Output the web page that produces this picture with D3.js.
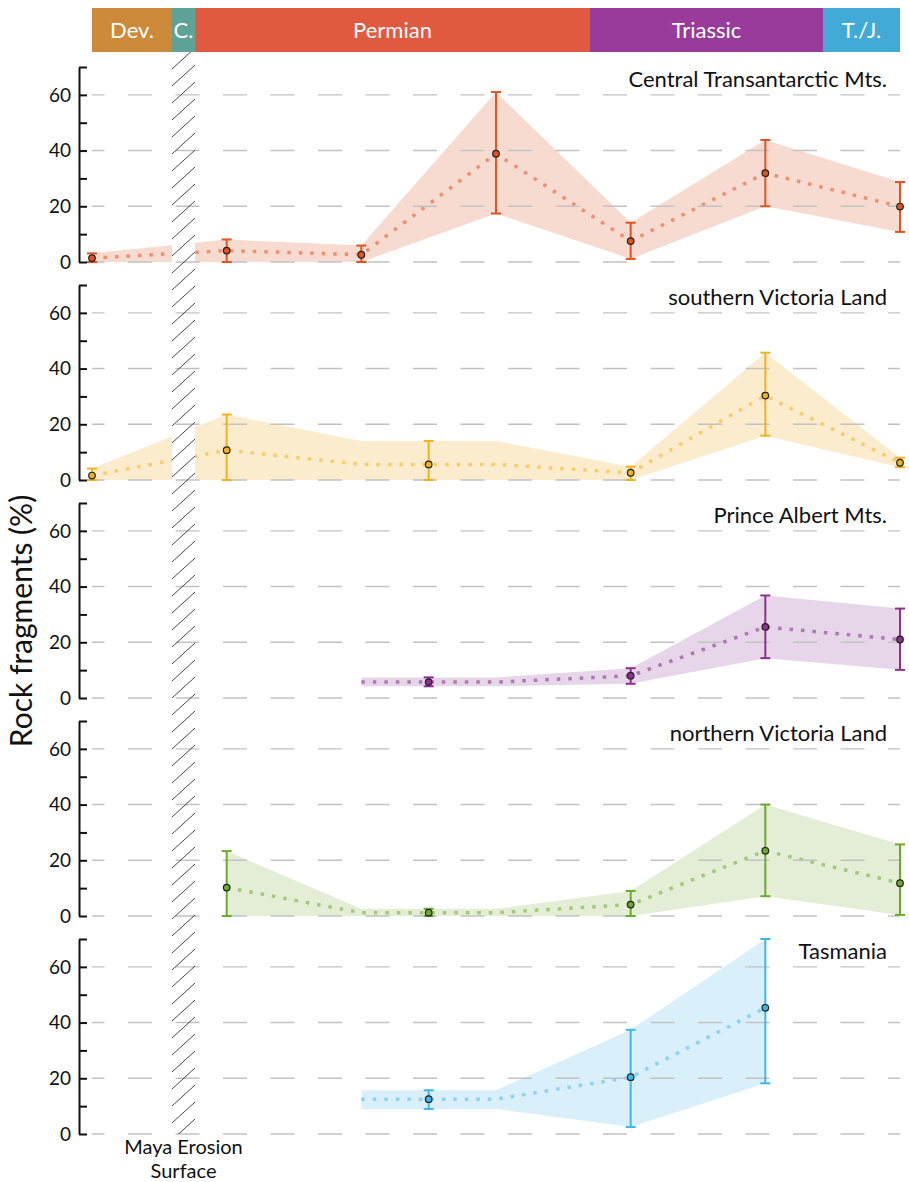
<!DOCTYPE html>
<html>
<head>
<meta charset="utf-8">
<script src="https://cdn.jsdelivr.net/npm/d3@7"></script>
<style>
    body { margin: 0; background: #fff; }
    svg text { font-family: Lato, "Open Sans", sans-serif; }
</style>
</head>
<body>
<div class="chart-container"></div>
<script>
// Chart params
const width = 909;
const height = 1182;
const panelTop = 67;
const panelHeight = 195;
const panelStep = 218;

// Time periods along the top bar (stage units)
const periods = ['Dev.', 'C.', 'Permian', 'Triassic', 'T./J.'];
const periodBounds = [0, 0.594, 0.765, 3.698, 5.428, 6];
const periodColors = ['#cc8a3a', '#5fa296', '#e05a3f', '#983b9b', '#42aad6'];

// Maya erosion surface gap (stage units)
const gapStart = 0.594;
const gapEnd = 0.765;

// Y axis ticks
const yLabels = [0, 20, 40, 60];
const yTicks = [0, 10, 20, 30, 40, 50, 60, 70];

// Regions
const regions = ['Central Transantarctic Mts.', 'southern Victoria Land', 'Prince Albert Mts.', 'northern Victoria Land', 'Tasmania'];

// Central Transantarctic Mts.
const ctmFrom = [0, 1, 2, 3, 4, 5, 6];
const ctmTo   = [0, 1, 2, 3, 4, 5, 6];
const ctmMean = [1.4, 4.1, 2.6, 38.9, 7.5, 31.9, 19.9];
const ctmLow  = [0, 0, 0, 17.4, 1.1, 20, 10.8];
const ctmHigh = [3.1, 8.1, 5.9, 61, 14.1, 43.8, 28.7];

// southern Victoria Land
const svlFrom = [0, 1, 2, 4, 5, 6];
const svlTo   = [0, 1, 3, 4, 5, 6];
const svlMean = [1.6, 10.7, 5.6, 2.6, 30.3, 6.2];
const svlLow  = [0, 0, 0, 0, 15.9, 4.6];
const svlHigh = [4.1, 23.5, 14, 4.8, 45.7, 8];

// Prince Albert Mts.
const pamFrom = [2, 4, 5, 6];
const pamTo   = [3, 4, 5, 6];
const pamMean = [5.7, 8.0, 25.5, 21];
const pamLow  = [4.2, 5.1, 14.3, 10.1];
const pamHigh = [7.4, 10.7, 36.8, 32.1];

// northern Victoria Land
const nvlFrom = [1, 2, 4, 5, 6];
const nvlTo   = [1, 3, 4, 5, 6];
const nvlMean = [10.2, 1.2, 4.1, 23.4, 11.8];
const nvlLow  = [0, 0, 0, 7.1, 0.4];
const nvlHigh = [23.3, 2.6, 9.0, 40, 25.7];

// Tasmania
const tasFrom = [2, 4, 5];
const tasTo   = [3, 4, 5];
const tasMean = [12.5, 20.4, 45.3];
const tasLow  = [9.0, 2.5, 18.2];
const tasHigh = [15.7, 37.4, 70];

// Colours: error bar, dotted line, band
const barColors  = ['#e2531f', '#f2b11f', '#8f2f8f', '#6aaa2c', '#3eb6e8'];
const dotColors  = ['#ee9070', '#f7cd6a', '#ad78b3', '#a3c879', '#8dd3f1'];
const bandColors = ['#f8dbd0', '#fbecce', '#e7d6ea', '#e4eed6', '#d9effa'];

const seriesFrom = [ctmFrom, svlFrom, pamFrom, nvlFrom, tasFrom];
const seriesTo   = [ctmTo, svlTo, pamTo, nvlTo, tasTo];
const seriesMean = [ctmMean, svlMean, pamMean, nvlMean, tasMean];
const seriesLow  = [ctmLow, svlLow, pamLow, nvlLow, tasLow];
const seriesHigh = [ctmHigh, svlHigh, pamHigh, nvlHigh, tasHigh];

const x = d3.scaleLinear().domain([0, 6]).range([92, 900]);

// Build point records for a panel
function getPoints(i) {
    return seriesMean[i].map((m, j) => ({
        from: seriesFrom[i][j],
        to: seriesTo[i][j],
        mean: m,
        low: seriesLow[i][j],
        high: seriesHigh[i][j]
    }));
}

// Band vertices: a point spread over a stage interval gives two vertices
function getVertices(points) {
    var v = [];
    points.forEach(p => {
        v.push({ x: p.from, mean: p.mean, low: p.low, high: p.high });
        if (p.to !== p.from) v.push({ x: p.to, mean: p.mean, low: p.low, high: p.high });
    });
    return v;
}

function yScale(i) {
    var top = panelTop + i * panelStep;
    return d3.scaleLinear().domain([0, 70]).range([top + panelHeight, top]);
}

function drawChart() {

    var svg = d3.select('.chart-container')
        .append('svg')
        .attr('width', width)
        .attr('height', height);

    // Bands and dotted mean lines (masked by the gap column later)
    regions.forEach((r, i) => {
        var y = yScale(i);
        var v = getVertices(getPoints(i));

        svg.append('path')
            .datum(v)
            .attr('fill', bandColors[i])
            .attr('d', d3.area().x(d => x(d.x)).y0(d => y(d.low)).y1(d => y(d.high)));

        svg.append('path')
            .datum(v)
            .attr('fill', 'none')
            .attr('stroke', dotColors[i])
            .attr('stroke-width', 3.5)
            .attr('stroke-dasharray', '3.5 8')
            .attr('d', d3.line().x(d => x(d.x)).y(d => y(d.mean)));
    });

    // Maya erosion surface column
    var colTop = 52;
    var colBottom = yScale(regions.length - 1)(0);

    svg.append('rect')
        .attr('x', x(gapStart))
        .attr('y', colTop)
        .attr('width', x(gapEnd) - x(gapStart))
        .attr('height', colBottom - colTop)
        .attr('fill', '#fff');

    // Gridlines and axes
    regions.forEach((r, i) => {
        var y = yScale(i);
        var g = svg.append('g');

        g.selectAll('.grid')
            .data(yLabels)
            .enter()
            .append('line')
            .attr('class', 'grid')
            .attr('x1', x(0))
            .attr('x2', x(6))
            .attr('y1', d => y(d))
            .attr('y2', d => y(d))
            .attr('stroke', '#c2c2c2')
            .attr('stroke-width', 1.4)
            .attr('stroke-dasharray', '24 23.5')
            .attr('stroke-dashoffset', 11.5);

        var axis = svg.append('g')
            .attr('transform', 'translate(79,0)')
            .call(d3.axisRight(y).tickValues(yTicks).tickSize(8).tickSizeOuter(0).tickFormat(''));
        axis.select('.domain').attr('stroke', '#111').attr('stroke-width', 2);
        axis.selectAll('.tick line').attr('stroke', '#111').attr('stroke-width', 2);

        g.selectAll('.ylabel')
            .data(yLabels)
            .enter()
            .append('text')
            .attr('class', 'ylabel')
            .attr('x', 71)
            .attr('y', d => y(d))
            .attr('dy', '0.36em')
            .attr('text-anchor', 'end')
            .attr('font-size', 19)
            .attr('fill', '#111')
            .text(d => d);

        // Region title
        g.append('text')
            .attr('x', 887)
            .attr('y', y(70) + 20)
            .attr('text-anchor', 'end')
            .attr('font-size', 22)
            .attr('fill', '#111')
            .text(r);
    });

    // Hatching over the column
    svg.append('clipPath')
        .attr('id', 'gap-clip')
        .append('rect')
        .attr('x', x(gapStart))
        .attr('y', colTop)
        .attr('width', x(gapEnd) - x(gapStart))
        .attr('height', colBottom - colTop);

    svg.append('g')
        .attr('clip-path', 'url(#gap-clip)')
        .selectAll('line')
        .data(d3.range(colTop, colBottom + 40, 17))
        .enter()
        .append('line')
        .attr('x1', x(gapStart))
        .attr('x2', x(gapEnd))
        .attr('y1', d => d)
        .attr('y2', d => d - 21)
        .attr('stroke', '#333')
        .attr('stroke-width', 0.9);

    // Error bars and points
    regions.forEach((r, i) => {
        var y = yScale(i);
        var pts = getPoints(i);
        var g = svg.append('g');

        var bar = g.selectAll('.err')
            .data(pts)
            .enter()
            .append('g')
            .attr('class', 'err')
            .attr('stroke', barColors[i])
            .attr('stroke-width', 2);

        bar.append('line')
            .attr('x1', d => x((d.from + d.to) / 2))
            .attr('x2', d => x((d.from + d.to) / 2))
            .attr('y1', d => y(d.low))
            .attr('y2', d => y(d.high));

        ['low', 'high'].forEach(k => {
            bar.append('line')
                .attr('x1', d => x((d.from + d.to) / 2) - 5)
                .attr('x2', d => x((d.from + d.to) / 2) + 5)
                .attr('y1', d => y(d[k]))
                .attr('y2', d => y(d[k]));
        });

        g.selectAll('.point')
            .data(pts)
            .enter()
            .append('circle')
            .attr('class', 'point')
            .attr('cx', d => x((d.from + d.to) / 2))
            .attr('cy', d => y(d.mean))
            .attr('r', 3.3)
            .attr('fill', barColors[i])
            .attr('stroke', '#222')
            .attr('stroke-width', 1.2);
    });

    // Period bar on top
    var bar = svg.append('g');
    bar.selectAll('rect')
        .data(periods)
        .enter()
        .append('rect')
        .attr('x', (d, i) => x(periodBounds[i]))
        .attr('y', 8)
        .attr('width', (d, i) => x(periodBounds[i + 1]) - x(periodBounds[i]))
        .attr('height', 44)
        .attr('fill', (d, i) => periodColors[i]);

    bar.selectAll('text')
        .data(periods)
        .enter()
        .append('text')
        .attr('x', (d, i) => (x(periodBounds[i]) + x(periodBounds[i + 1])) / 2)
        .attr('y', 38)
        .attr('text-anchor', 'middle')
        .attr('font-size', 22)
        .attr('fill', '#fff')
        .text(d => d);

    // Y axis title
    svg.append('text')
        .attr('transform', 'translate(32,621) rotate(-90)')
        .attr('text-anchor', 'middle')
        .attr('font-size', 30)
        .attr('fill', '#111')
        .text('Rock fragments (%)');

    // Gap label, two lines
    var cx = (x(gapStart) + x(gapEnd)) / 2;
    var gapLabel = svg.append('text')
        .attr('x', cx)
        .attr('y', 1154)
        .attr('text-anchor', 'middle')
        .attr('font-size', 20)
        .attr('fill', '#111');
    gapLabel.append('tspan').attr('x', cx).text('Maya Erosion');
    gapLabel.append('tspan').attr('x', cx).attr('dy', 24).text('Surface');
}

window.onload = function () {
    drawChart();
};
</script>
</body>
</html>
